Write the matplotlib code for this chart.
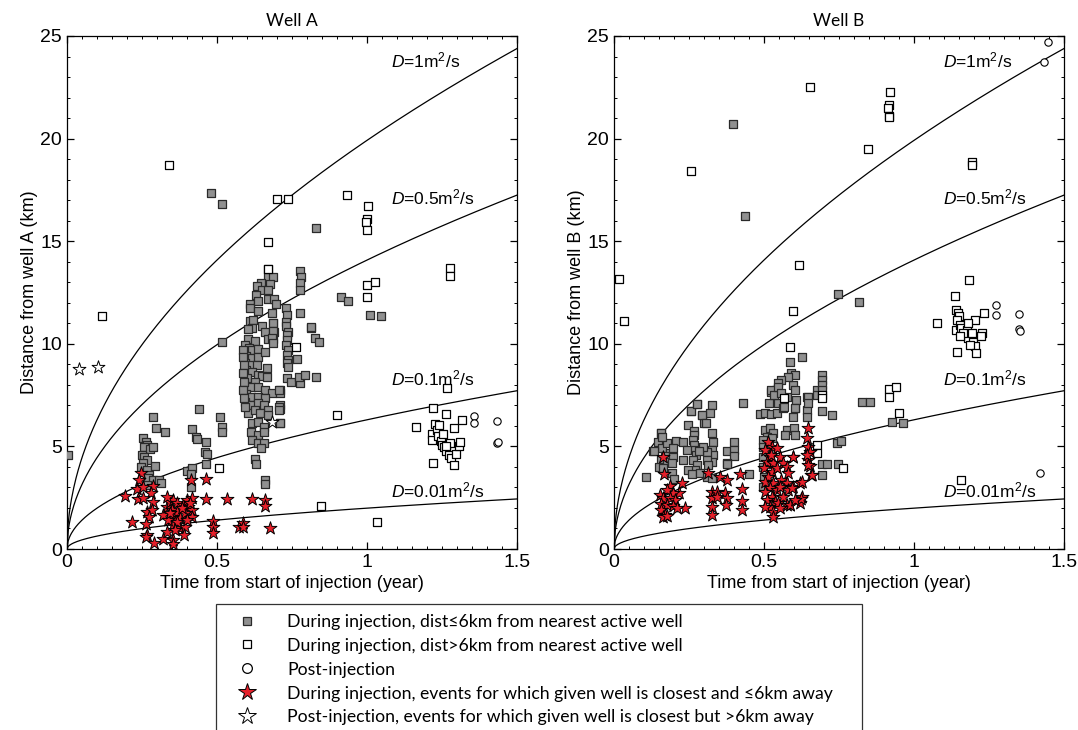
import numpy as np
import matplotlib
matplotlib.use("Agg")
import matplotlib.pyplot as plt
from matplotlib.lines import Line2D

plt.rcParams['font.family'] = ['Liberation Sans', 'DejaVu Sans']
plt.rcParams['mathtext.fontset'] = 'custom'
plt.rcParams['mathtext.rm'] = 'Liberation Sans'
plt.rcParams['mathtext.it'] = 'Liberation Sans:italic'

# ---------------- data (time in years, distance in km) ----------------
diffusivities = [1, 0.5, 0.1, 0.01]          # m^2/s
diff_labels = [r'$D$=1m$^2$/s', r'$D$=0.5m$^2$/s', r'$D$=0.1m$^2$/s', r'$D$=0.01m$^2$/s']
label_d_pos = [23.8, 17.15, 8.3, 2.83]

# ---- Well A ----
A_grey = [
    (0.003, 4.57), (0.516, 10.1), (0.479, 17.33), (0.518, 16.83), (0.831, 15.65),
    (0.671, 13.63), (0.669, 13.27), (0.685, 13.24), (0.647, 12.95), (0.632, 12.83),
    (0.651, 12.62), (0.675, 12.91), (0.671, 12.62), (0.629, 12.38), (0.610, 11.94),
    (0.610, 11.73), (0.636, 12.10), (0.671, 12.17), (0.691, 12.17), (0.697, 11.94),
    (0.636, 11.61), (0.682, 11.48), (0.610, 11.13), (0.621, 11.16), (0.616, 10.75),
    (0.602, 10.70), (0.649, 10.87), (0.688, 11.0), (0.690, 10.59), (0.660, 10.59),
    (0.669, 10.22), (0.688, 10.22), (0.602, 10.22), (0.627, 10.15), (0.594, 9.94),
    (0.607, 9.78), (0.616, 9.70), (0.636, 9.73), (0.596, 9.41), (0.616, 9.29),
    (0.638, 9.37), (0.660, 9.62), (0.594, 9.05), (0.614, 8.97), (0.632, 8.97),
    (0.596, 8.72), (0.616, 8.64), (0.638, 8.48), (0.666, 8.80), (0.649, 8.43),
    (0.599, 8.32), (0.627, 8.16), (0.666, 8.40), (0.594, 7.91), (0.614, 7.91),
    (0.638, 7.91), (0.660, 7.75), (0.682, 7.62), (0.596, 7.55), (0.614, 7.42),
    (0.638, 7.42), (0.660, 7.34), (0.710, 7.75), (0.710, 7.59), (0.594, 7.18),
    (0.616, 7.02), (0.638, 7.10), (0.655, 7.02), (0.669, 6.77), (0.710, 7.02),
    (0.710, 6.81), (0.602, 6.61), (0.625, 6.77), (0.644, 6.61), (0.671, 6.53),
    (0.616, 6.13), (0.638, 6.21), (0.658, 5.96), (0.710, 6.13), (0.614, 5.72),
    (0.636, 5.56), (0.658, 5.72), (0.616, 5.31), (0.636, 5.15), (0.655, 5.18),
    (0.647, 4.91), (0.625, 4.40), (0.631, 4.16), (0.659, 3.38), (0.659, 3.15),
    (0.588, 9.70), (0.588, 9.37), (0.590, 8.97), (0.588, 8.56), (0.591, 8.16),
    (0.588, 7.75), (0.590, 7.34), (0.594, 6.94),
    (0.730, 11.73), (0.732, 11.40), (0.730, 11.08), (0.730, 10.87), (0.736, 10.59),
    (0.732, 10.43), (0.732, 10.19), (0.730, 9.94), (0.738, 9.70), (0.732, 9.45),
    (0.736, 9.21), (0.732, 9.05), (0.736, 8.85), (0.686, 11.0), (0.686, 10.6),
    (0.684, 10.28), (0.686, 10.03), (0.708, 7.75), (0.708, 6.93), (0.708, 6.77),
    (0.711, 6.12),
    (0.778, 13.56), (0.779, 13.27), (0.778, 12.95), (0.778, 12.62), (0.777, 11.52),
    (0.813, 10.79), (0.827, 10.27), (0.840, 10.10), (0.766, 9.24), (0.732, 8.32),
    (0.747, 8.16), (0.777, 8.07), (0.773, 8.40), (0.793, 8.48), (0.829, 8.37),
    (0.913, 12.28), (0.936, 12.07), (0.812, 10.8), (1.01, 11.42), (1.047, 11.34),
    (0.285, 6.42), (0.297, 5.91), (0.327, 5.72), (0.252, 5.39), (0.263, 5.23),
    (0.268, 5.07), (0.257, 4.95), (0.277, 4.86), (0.249, 4.58), (0.257, 4.50),
    (0.266, 4.34), (0.252, 4.17), (0.246, 4.01), (0.266, 3.85), (0.274, 3.61),
    (0.271, 3.44), (0.288, 3.36), (0.268, 3.12), (0.292, 4.06), (0.308, 3.36),
    (0.314, 3.23), (0.288, 4.99), (0.440, 6.81), (0.415, 5.83), (0.430, 5.44),
    (0.432, 5.34), (0.463, 5.21), (0.460, 4.71), (0.467, 4.61), (0.510, 6.45),
    (0.515, 5.93), (0.515, 5.72), (0.463, 4.13), (0.399, 3.80), (0.415, 3.93),
    (0.412, 3.65), (0.412, 3.04),
]
A_open = [
    (0.34, 18.7), (0.70, 17.05), (0.737, 17.05), (0.932, 17.25), (1.003, 16.7),
    (1.0, 16.1), (0.998, 15.95), (1.0, 15.55), (0.67, 14.95), (0.67, 13.63),
    (1.276, 13.7), (1.276, 13.3), (1.0, 12.85), (1.026, 13.0), (1.0, 12.27),
    (0.118, 11.34), (1.266, 7.86), (0.90, 6.52), (0.846, 2.1), (1.033, 1.32),
    (0.506, 3.95), (0.762, 9.86),
    (1.22, 6.85), (1.262, 6.6), (1.316, 6.28), (1.291, 5.9), (1.163, 5.95),
    (1.22, 4.2), (1.215, 5.6), (1.218, 5.3), (1.225, 6.1), (1.232, 5.8),
    (1.238, 5.5), (1.245, 5.25), (1.25, 5.05), (1.258, 4.95), (1.265, 4.8),
    (1.272, 4.6), (1.28, 4.45), (1.289, 4.1), (1.298, 4.65), (1.306, 5.0),
    (1.31, 5.2), (1.275, 5.15), (1.255, 5.6), (1.24, 6.05), (1.265, 5.0),
]
A_post = [(1.356, 6.47), (1.356, 6.15), (1.434, 6.23), (1.434, 5.17), (1.436, 5.2)]
A_star_red = [
    (0.193, 2.60), (0.218, 1.30), (0.246, 3.72), (0.241, 3.36), (0.234, 2.91),
    (0.252, 3.01), (0.286, 3.09), (0.279, 2.71), (0.238, 2.44), (0.252, 2.50),
    (0.288, 2.31), (0.266, 1.82), (0.282, 1.90), (0.274, 1.58), (0.263, 1.22),
    (0.266, 0.68), (0.263, 0.57), (0.290, 0.31), (0.319, 0.47), (0.332, 0.85),
    (0.354, 0.44), (0.354, 0.24), (0.319, 1.66), (0.332, 2.06), (0.343, 2.31),
    (0.354, 2.39), (0.365, 2.23), (0.349, 1.90), (0.365, 1.82), (0.354, 1.58),
    (0.376, 1.49), (0.388, 2.14), (0.399, 2.39), (0.415, 2.47), (0.404, 2.06),
    (0.415, 1.90), (0.393, 1.74), (0.415, 1.58), (0.376, 1.01), (0.393, 1.09),
    (0.390, 0.68), (0.354, 1.17), (0.338, 1.41), (0.368, 1.33), (0.412, 3.36),
    (0.463, 3.41), (0.463, 2.42), (0.534, 2.45), (0.615, 2.45), (0.660, 2.39),
    (0.660, 2.10), (0.488, 1.37), (0.488, 1.09), (0.488, 0.80), (0.574, 1.06),
    (0.588, 1.25), (0.585, 1.09), (0.676, 1.01), (0.332, 2.55), (0.343, 1.74),
    (0.382, 1.98), (0.399, 1.41), (0.410, 2.23), (0.360, 0.93),
]
A_star_post = [(0.041, 8.76), (0.104, 8.86), (0.682, 6.2)]

# ---- Well B ----
B_grey = [
    (0.396, 20.72), (0.435, 16.25), (0.748, 12.42), (0.818, 12.02),
    (0.275, 7.07), (0.325, 7.02), (0.255, 6.74), (0.292, 6.53), (0.320, 6.61),
    (0.245, 6.04), (0.301, 6.13), (0.265, 5.77), (0.268, 5.56), (0.264, 5.31),
    (0.268, 5.07), (0.264, 4.83), (0.273, 4.58), (0.264, 4.34), (0.275, 4.10),
    (0.270, 3.85), (0.325, 5.64), (0.329, 5.23), (0.325, 4.83), (0.331, 4.58),
    (0.325, 4.26), (0.309, 4.75), (0.309, 4.34), (0.314, 4.10), (0.298, 4.99),
    (0.284, 4.79), (0.156, 5.64), (0.148, 5.23), (0.131, 4.79), (0.159, 4.91),
    (0.175, 5.15), (0.207, 5.26), (0.231, 5.23), (0.187, 4.66), (0.170, 4.53),
    (0.156, 4.34), (0.178, 4.26), (0.151, 3.98), (0.162, 3.93), (0.196, 4.91),
    (0.198, 4.47), (0.193, 4.21), (0.231, 4.34), (0.242, 4.83), (0.107, 3.53),
    (0.192, 3.69), (0.200, 3.40), (0.378, 4.79), (0.400, 5.23), (0.401, 4.83),
    (0.401, 4.53), (0.375, 4.18), (0.431, 7.10), (0.248, 3.85), (0.259, 3.66),
    (0.287, 3.69), (0.309, 3.53), (0.325, 3.45), (0.45, 3.64), (0.378, 4.16),
    (0.486, 6.56), (0.503, 6.61), (0.523, 6.56), (0.542, 6.61), (0.517, 7.10),
    (0.547, 7.10), (0.564, 6.86), (0.523, 7.67), (0.542, 7.75), (0.575, 7.39),
    (0.595, 7.99), (0.603, 6.86), (0.597, 6.45), (0.642, 7.42), (0.642, 6.77),
    (0.642, 6.45), (0.675, 7.75), (0.675, 7.50), (0.575, 5.80), (0.600, 5.88),
    (0.603, 5.56), (0.570, 5.56), (0.625, 9.35), (0.585, 9.09), (0.591, 8.56),
    (0.602, 8.48), (0.579, 8.40), (0.556, 8.24), (0.545, 8.07), (0.539, 7.75),
    (0.522, 7.75), (0.533, 7.50), (0.545, 7.91), (0.602, 7.75), (0.556, 7.59),
    (0.608, 7.26), (0.567, 6.93), (0.602, 6.85), (0.648, 7.42), (0.648, 7.13),
    (0.692, 8.48), (0.692, 8.24), (0.692, 7.99), (0.692, 7.75), (0.692, 6.74),
    (0.728, 6.53), (0.742, 5.19), (0.757, 5.25), (0.692, 4.16), (0.709, 4.16),
    (0.745, 4.16), (0.692, 3.59), (0.826, 7.15), (0.852, 7.15), (0.925, 6.20),
    (0.963, 6.12), (0.155, 5.66), (0.161, 5.46), (0.132, 4.76),
    (0.503, 5.80), (0.520, 5.88), (0.531, 5.64), (0.509, 5.47), (0.525, 5.39),
    (0.497, 5.31), (0.497, 4.99), (0.497, 4.50), (0.495, 4.01), (0.500, 3.53),
    (0.497, 3.04), (0.258, 6.74), (0.278, 7.06), (0.292, 6.53), (0.307, 6.12),
]
B_open = [
    (0.017, 13.14), (0.258, 18.44), (0.654, 22.52), (0.921, 22.26), (0.915, 21.63),
    (0.912, 21.47), (0.915, 21.08), (0.918, 21.05), (0.846, 19.49), (1.193, 18.87),
    (1.193, 18.71), (0.616, 13.85), (1.183, 13.09), (1.135, 12.31), (0.034, 11.13),
    (0.596, 11.58), (0.585, 9.82), (0.567, 7.34), (0.915, 7.78), (0.915, 7.39),
    (0.940, 7.91), (0.95, 6.61), (0.763, 3.95), (1.155, 3.34), (0.677, 5.06),
    (0.677, 4.70), (0.692, 7.52), (0.692, 7.34), (1.078, 11.01),
    (1.141, 11.66), (1.147, 11.50), (1.150, 11.37), (1.139, 10.69), (1.143, 11.17),
    (1.153, 10.93), (1.158, 10.77), (1.143, 9.62), (1.175, 10.69), (1.181, 10.28),
    (1.193, 10.52), (1.198, 10.11), (1.204, 9.87), (1.187, 9.95), (1.208, 9.54),
    (1.204, 11.14), (1.227, 10.52), (1.233, 11.50), (1.164, 10.52), (1.153, 10.36),
    (1.181, 11.01), (1.223, 10.39),
]
B_post = [(1.447, 24.72), (1.433, 23.75), (1.273, 11.91), (1.273, 11.42),
          (1.351, 11.45), (1.351, 10.72), (1.353, 10.64), (1.419, 3.72)]
B_star_red = [
    (0.164, 4.50), (0.167, 3.66), (0.187, 3.07), (0.226, 3.20), (0.218, 2.71),
    (0.198, 2.71), (0.175, 2.88), (0.153, 2.63), (0.164, 2.47), (0.187, 2.47),
    (0.203, 2.39), (0.155, 2.20), (0.175, 2.15), (0.198, 2.10), (0.237, 2.02),
    (0.155, 1.90), (0.170, 1.66), (0.162, 1.58), (0.177, 1.61), (0.209, 1.98),
    (0.314, 3.72), (0.353, 3.53), (0.378, 3.36), (0.420, 3.66), (0.425, 2.91),
    (0.325, 2.80), (0.344, 2.80), (0.370, 2.71), (0.325, 2.47), (0.342, 2.52),
    (0.378, 2.47), (0.425, 2.36), (0.425, 1.90), (0.325, 2.07), (0.373, 2.15),
    (0.325, 1.66),
    (0.514, 5.23), (0.525, 4.99), (0.503, 4.83), (0.542, 4.91), (0.520, 4.50),
    (0.509, 4.26), (0.531, 4.18), (0.500, 3.93), (0.525, 3.77), (0.542, 3.93),
    (0.514, 3.53), (0.503, 3.28), (0.531, 3.20), (0.520, 2.96), (0.503, 2.80),
    (0.542, 2.88), (0.525, 2.55), (0.509, 2.39), (0.536, 2.31), (0.520, 2.07),
    (0.531, 1.82), (0.531, 1.58), (0.503, 2.07), (0.553, 4.50), (0.564, 4.18),
    (0.575, 4.01), (0.581, 3.69), (0.558, 3.36), (0.575, 3.20), (0.553, 3.04),
    (0.581, 2.88), (0.564, 2.55), (0.547, 2.23), (0.575, 2.15), (0.553, 1.98),
    (0.595, 4.50), (0.597, 3.01), (0.586, 2.15), (0.620, 3.20), (0.625, 2.52),
    (0.620, 2.23), (0.647, 5.88), (0.642, 5.39), (0.647, 4.99), (0.653, 4.75),
    (0.647, 4.34), (0.653, 4.05), (0.658, 3.61), (0.642, 4.58), (0.522, 4.58),
    (0.596, 4.49), (0.625, 3.26), (0.623, 2.45), (0.588, 2.12), (0.602, 2.37),
    (0.594, 2.99), (0.659, 3.59), (0.648, 4.08),
]
B_star_post = []

panels = [
    ("Well A", "Distance from well A (km)", A_grey, A_open, A_post, A_star_red, A_star_post),
    ("Well B", "Distance from well B (km)", B_grey, B_open, B_post, B_star_red, B_star_post),
]

SEC_PER_YEAR = 365.25 * 24 * 3600

# ---------------- figure ----------------
fig = plt.figure(figsize=(10.78, 7.30), dpi=100)
ax_lefts = [67 / 1078, 614 / 1078]
ax_w = 450 / 1078
ax_b = 1 - 549 / 730
ax_h = 513 / 730

grey_face = '#909090'
grey_edge = '#2a2a2a'
red = '#e5202a'
sq_s = 26
star_s = 95

for i, (title, ylab, grey, opn, post, sred, spost) in enumerate(panels):
    ax = fig.add_axes([ax_lefts[i], ax_b, ax_w, ax_h])
    t = np.linspace(0, 1.5, 400)
    for D in diffusivities:
        r = np.sqrt(4 * np.pi * D * t * SEC_PER_YEAR) / 1000.0
        ax.plot(t, r, color='black', lw=0.9, zorder=2)
    for lab, yd in zip(diff_labels, label_d_pos):
        ax.text(1.08 if i == 0 else 1.095, yd, lab, fontsize=12.5, va='center', ha='left',
                zorder=6)

    g = np.array(grey)
    ax.scatter(g[:, 0], g[:, 1], s=sq_s, marker='s', facecolor=grey_face,
               edgecolor=grey_edge, linewidths=0.9, zorder=3)
    o = np.array(opn)
    ax.scatter(o[:, 0], o[:, 1], s=sq_s, marker='s', facecolor='white',
               edgecolor='black', linewidths=0.9, zorder=3)
    p = np.array(post)
    ax.scatter(p[:, 0], p[:, 1], s=28, marker='o', facecolor='white',
               edgecolor='black', linewidths=0.8, zorder=3)
    sr = np.array(sred)
    ax.scatter(sr[:, 0], sr[:, 1], s=star_s, marker='*', facecolor=red,
               edgecolor='black', linewidths=0.7, zorder=4)
    if len(spost):
        sp = np.array(spost)
        ax.scatter(sp[:, 0], sp[:, 1], s=star_s, marker='*', facecolor='white',
                   edgecolor='black', linewidths=0.7, zorder=4)

    ax.set_xlim(0, 1.5)
    ax.set_ylim(0, 25)
    ax.set_xticks([0, 0.5, 1, 1.5])
    ax.set_xticklabels(['0', '0.5', '1', '1.5'])
    ax.set_yticks([0, 5, 10, 15, 20, 25])
    ax.set_xticks(np.arange(0, 1.5001, 0.05), minor=True)
    ax.set_yticks(np.arange(0, 25.001, 1), minor=True)
    ax.tick_params(which='both', direction='in', top=True, right=True)
    ax.tick_params(which='major', length=5, width=0.9, labelsize=14)
    ax.tick_params(which='minor', length=2.5, width=0.7)
    for sp_ in ax.spines.values():
        sp_.set_linewidth(0.9)
    ax.set_title(title, fontsize=12.5, family='Lato', pad=7)
    ax.set_xlabel('Time from start of injection (year)', fontsize=13, labelpad=3)
    ax.set_ylabel(ylab, fontsize=13, labelpad=2)

handles = [
    Line2D([], [], ls='none', marker='s', ms=6, mfc=grey_face, mec=grey_edge, mew=0.9),
    Line2D([], [], ls='none', marker='s', ms=6, mfc='white', mec='black', mew=0.9),
    Line2D([], [], ls='none', marker='o', ms=7, mfc='white', mec='black', mew=0.9),
    Line2D([], [], ls='none', marker='*', ms=13, mfc=red, mec='black', mew=0.7),
    Line2D([], [], ls='none', marker='*', ms=13, mfc='white', mec='black', mew=0.7),
]
labels = [
    'During injection, dist\u22646km from nearest active well',
    'During injection, dist>6km from nearest active well',
    'Post-injection',
    'During injection, events for which given well is closest and \u22646km away',
    'Post-injection, events for which given well is closest but >6km away',
]
leg = fig.legend(handles, labels, loc='upper left',
                 bbox_to_anchor=(216 / 1078, 0.0, 646 / 1078, 1 - 604 / 730),
                 mode='expand', frameon=True, fancybox=False, edgecolor='black',
                 prop={'family': ['Lato', 'DejaVu Sans'], 'size': 12.7},
                 handletextpad=1.1, labelspacing=0.45, borderpad=0.55,
                 handlelength=2.4, borderaxespad=0)
leg.get_frame().set_linewidth(0.9)

fig.savefig('out.png', dpi=100)
